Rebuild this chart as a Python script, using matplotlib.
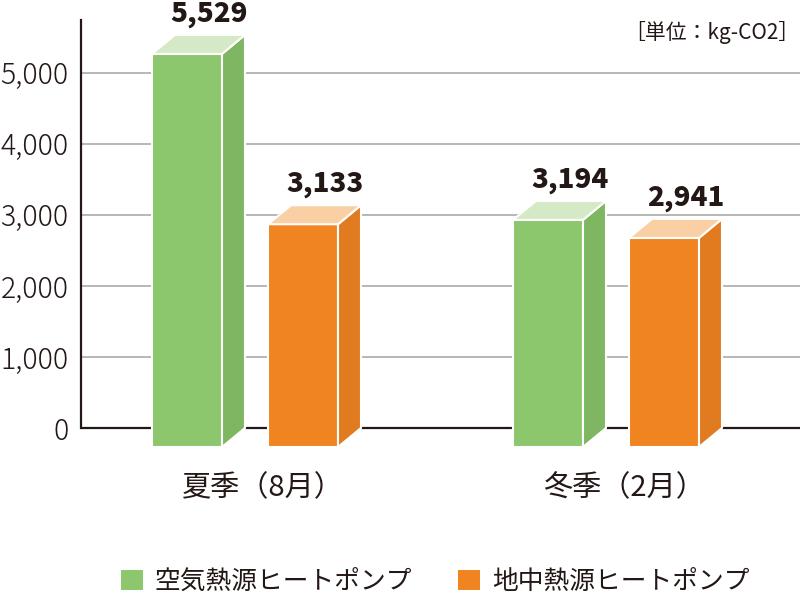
import matplotlib
matplotlib.use("Agg")
import matplotlib.pyplot as plt
from matplotlib.patches import Polygon, Patch

plt.rcParams['font.family'] = ['Noto Sans CJK JP', 'DejaVu Sans']

# data
seasons = ["夏季（8月）", "冬季（2月）"]
series_names = ["空気熱源ヒートポンプ", "地中熱源ヒートポンプ"]
air_source = [5529, 3194]
ground_source = [3133, 2941]
yticks = [0, 1000, 2000, 3000, 4000, 5000]
unit_label = "［単位：kg-CO2］"

# colours: front, side, top
greens = ("#8cc66d", "#7eb661", "#d6e9c6")
oranges = ("#ef8421", "#e07b1f", "#f9cfa3")
dark = "#231815"

# layout (x in pixels, y in values)
px_per_unit = 71.1 / 1000
group_centers = [257, 618]
bar_w = 70
offsets = [-105, 11]
depth_x = 23
depth_y = 19 / px_per_unit

fig = plt.figure(figsize=(8.0, 5.99), dpi=100)
ax = fig.add_axes([81 / 800, (599 - 520) / 599, 719 / 800, 500 / 599])
ax.set_xlim(81, 800)
ax.set_ylim(-(520 - 428) / px_per_unit, (428 - 20) / px_per_unit)

for s in ["top", "right", "bottom"]:
    ax.spines[s].set_visible(False)
ax.spines["left"].set_color(dark)
ax.spines["left"].set_linewidth(1.6)
ax.spines["left"].set_bounds(0, (428 - 20) / px_per_unit)

ax.set_xticks([])
ax.set_yticks(yticks)
ax.set_yticklabels([f"{v:,}" for v in yticks], fontsize=20.5, color=dark, fontweight="light")
ax.tick_params(axis="y", length=0, pad=9)

for v in yticks[1:]:
    ax.axhline(v, color="#aaaaaa", lw=1.2, zorder=1)
ax.plot([81, 800], [0, 0], color=dark, lw=1.6, zorder=1)


def draw_bar(left, value, cols):
    front, side, top = cols
    dy = depth_y
    ax.add_patch(Polygon([(left, -dy), (left + bar_w, -dy), (left + bar_w, value - dy), (left, value - dy)],
                         closed=True, facecolor=front, edgecolor="white", lw=1.5, zorder=3))
    ax.add_patch(Polygon([(left + bar_w, -dy), (left + bar_w + depth_x, 0), (left + bar_w + depth_x, value),
                          (left + bar_w, value - dy)],
                         closed=True, facecolor=side, edgecolor="white", lw=1.5, zorder=3))
    ax.add_patch(Polygon([(left, value - dy), (left + depth_x, value), (left + bar_w + depth_x, value),
                          (left + bar_w, value - dy)],
                         closed=True, facecolor=top, edgecolor="white", lw=1.5, zorder=3))
    ax.text(left + depth_x + bar_w / 2 - 1, value + 13.5 / px_per_unit, f"{value:,}",
            ha="center", va="baseline", fontsize=20, fontweight="heavy", color=dark, zorder=4)


for i, c in enumerate(group_centers):
    draw_bar(c + offsets[0], air_source[i], greens)
    draw_bar(c + offsets[1], ground_source[i], oranges)
    ax.text(c + 6, -(488 - 428) / px_per_unit, seasons[i], ha="center", va="center",
            fontsize=21, color=dark)

fig.text(799 / 800, 1 - 33 / 599, unit_label, ha="right", va="center", fontsize=15, color=dark)

handles = [Patch(facecolor=greens[0], edgecolor="none"), Patch(facecolor=oranges[0], edgecolor="none")]
leg = fig.legend(handles, series_names, loc="center", bbox_to_anchor=(0.544, 1 - 582 / 599),
                 ncol=2, frameon=False, fontsize=18.5, handlelength=0.85, handleheight=0.85,
                 handletextpad=0.45, columnspacing=1.8)
for t in leg.get_texts():
    t.set_color(dark)

fig.savefig("out.png", dpi=100)
